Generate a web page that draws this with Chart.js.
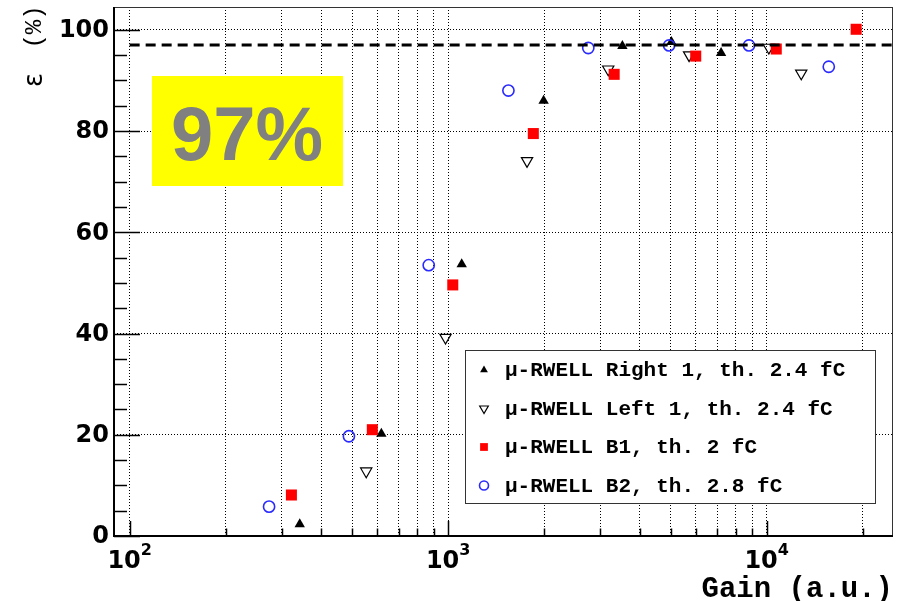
<!DOCTYPE html>
<html>
<head>
<meta charset="utf-8">
<script src="https://cdn.jsdelivr.net/npm/chart.js@4.4.1/dist/chart.umd.min.js"></script>
<style>
  html, body { margin: 0; padding: 0; background: #fff; }
  canvas { display: block; }
</style>
</head>
<body>
<canvas id="c" width="897" height="601"></canvas>
<script>
// Detection efficiency of the μ-RWELL prototypes as a function of gas gain

const right1Gain = [342, 617, 1103, 1994, 3524, 5024, 7194];
const right1Eff  = [2.3, 20.2, 53.7, 86.0, 96.8, 97.6, 95.4];

const left1Gain  = [553, 981, 1769, 3181, 5709, 10160, 12840];
const left1Eff   = [12.8, 39.2, 74.1, 92.2, 95.0, 96.5, 91.4];

const b1Gain     = [322, 578, 1034, 1851, 3321, 5989, 10720, 19100];
const b1Eff      = [8.1, 21.0, 49.6, 79.5, 91.2, 94.8, 96.2, 100.1];

const b2Gain     = [274, 488, 869, 1546, 2754, 4940, 8802, 15670];
const b2Eff      = [5.8, 19.7, 53.5, 88.0, 96.4, 96.9, 96.9, 92.7];

const seriesLabels = [
  'μ-RWELL Right 1, th. 2.4 fC',
  'μ-RWELL Left 1, th. 2.4 fC',
  'μ-RWELL B1, th. 2 fC',
  'μ-RWELL B2, th. 2.8 fC'
];

const plateauEff  = 97;
const plateauText = '97%';

const gainRange   = [89.3, 24930];
const effRange    = [0, 104.5];
const effTicks    = [0, 20, 40, 60, 80, 100];
const effMinorStep = 5;
const gainDecades = [2, 3, 4];
const gainSteps   = [1, 2, 3, 4, 5, 6, 7, 8, 9];

const xTitle = 'Gain (a.u.)';
const yTitleSymbol = 'ε';
const yTitleUnit = '(%)';

const toPoints = (xs, ys) => xs.map((v, i) => ({ x: v, y: ys[i] }));

// every 1..9 × 10^n inside the axis range: grid lines and ticks
const gainGrid = [];
const gainMajor = [];
gainDecades.forEach(d => gainSteps.forEach(m => {
  const v = m * Math.pow(10, d);
  if (v >= gainRange[0] && v <= gainRange[1]) {
    gainGrid.push(v);
    gainMajor.push(m === 1);
  }
}));

const datasets = [
  {
    label: seriesLabels[0], data: toPoints(right1Gain, right1Eff), order: 4,
    pointStyle: 'triangle', pointRadius: 6, pointRotation: 0,
    backgroundColor: '#000', borderColor: '#000', borderWidth: 0
  },
  {
    label: seriesLabels[1], data: toPoints(left1Gain, left1Eff), order: 3,
    pointStyle: 'triangle', pointRadius: 6.5, pointRotation: 180,
    backgroundColor: 'rgba(0,0,0,0)', borderColor: '#000', borderWidth: 1.2
  },
  {
    label: seriesLabels[2], data: toPoints(b1Gain, b1Eff), order: 2,
    pointStyle: 'rect', pointRadius: 7.8, pointRotation: 0,
    backgroundColor: '#ff0000', borderColor: '#ff0000', borderWidth: 0
  },
  {
    label: seriesLabels[3], data: toPoints(b2Gain, b2Eff), order: 1,
    pointStyle: 'circle', pointRadius: 5.6, pointRotation: 0,
    backgroundColor: 'rgba(0,0,0,0)', borderColor: '#2a2aff', borderWidth: 1.6
  },
  {
    type: 'line', label: 'plateau', order: 0,
    data: [{ x: 100, y: plateauEff }, { x: gainRange[1], y: plateauEff }],
    showLine: true, borderColor: '#000', borderWidth: 3, borderDash: [10, 6],
    pointRadius: 0, fill: false
  }
];

const decorations = {
  id: 'decorations',
  afterDraw(chart) {
    const { ctx, chartArea: a, scales: { x, y } } = chart;
    ctx.save();

    // plateau label
    ctx.fillStyle = '#ffff00';
    ctx.fillRect(152, 76, 191, 110);
    ctx.fillStyle = '#808080';
    ctx.font = 'bold 76px "Liberation Sans", Arial, sans-serif';
    ctx.textAlign = 'center';
    ctx.textBaseline = 'alphabetic';
    ctx.fillText(plateauText, 247, 160);

    // frame
    ctx.strokeStyle = '#333';
    ctx.lineWidth = 1;
    ctx.strokeRect(a.left + 0.5, a.top + 0.5, a.right - a.left - 1, a.bottom - a.top - 1);
    ctx.strokeStyle = '#000';
    ctx.lineWidth = 2;
    ctx.beginPath();
    ctx.moveTo(a.left, a.top);
    ctx.lineTo(a.left, a.bottom);
    ctx.lineTo(a.right, a.bottom);
    ctx.stroke();

    // y ticks (inside)
    ctx.lineWidth = 1.5;
    for (let v = effRange[0]; v <= effRange[1]; v += effMinorStep) {
      const py = Math.round(y.getPixelForValue(v)) + 0.5;
      const len = effTicks.includes(v) ? 26 : 13;
      ctx.beginPath();
      ctx.moveTo(a.left, py);
      ctx.lineTo(a.left + len, py);
      ctx.stroke();
    }
    // x ticks (inside)
    gainGrid.forEach((v, i) => {
      const px = Math.round(x.getPixelForValue(v)) + 0.5;
      const len = gainMajor[i] ? 15 : 7.5;
      ctx.beginPath();
      ctx.moveTo(px, a.bottom);
      ctx.lineTo(px, a.bottom - len);
      ctx.stroke();
    });

    // y tick labels
    ctx.fillStyle = '#000';
    ctx.font = 'bold 24px "DejaVu Sans", sans-serif';
    ctx.textAlign = 'right';
    ctx.textBaseline = 'middle';
    effTicks.forEach(v => ctx.fillText(String(v), a.left - 5, y.getPixelForValue(v) + 1));

    // x tick labels: 10^n
    ctx.textAlign = 'left';
    ctx.textBaseline = 'alphabetic';
    gainDecades.forEach(d => {
      const px = x.getPixelForValue(Math.pow(10, d));
      ctx.font = 'bold 24px "DejaVu Sans", sans-serif';
      const wb = ctx.measureText('10').width;
      ctx.font = 'bold 16px "DejaVu Sans", sans-serif';
      const we = ctx.measureText(String(d)).width;
      const x0 = px - (wb + we) / 2;
      ctx.font = 'bold 24px "DejaVu Sans", sans-serif';
      ctx.fillText('10', x0, a.bottom + 32);
      ctx.font = 'bold 16px "DejaVu Sans", sans-serif';
      ctx.fillText(String(d), x0 + wb, a.bottom + 19);
    });

    // axis titles
    ctx.font = 'bold 29px "Liberation Mono", monospace';
    ctx.textAlign = 'right';
    ctx.fillText(xTitle, a.right, 597);

    ctx.save();
    ctx.translate(35, 0);
    ctx.rotate(-Math.PI / 2);
    ctx.textAlign = 'center';
    ctx.textBaseline = 'middle';
    ctx.font = '24px "Liberation Mono", monospace';
    ctx.fillText(yTitleUnit, -27, 0);
    ctx.font = '26px "DejaVu Sans", sans-serif';
    ctx.fillText(yTitleSymbol, -80, 0);
    ctx.restore();

    // legend
    const lx = 465, ly = 350, lw = 410, lh = 153;
    ctx.fillStyle = '#fff';
    ctx.fillRect(lx, ly, lw, lh);
    ctx.strokeStyle = '#333';
    ctx.lineWidth = 1;
    ctx.strokeRect(lx + 0.5, ly + 0.5, lw, lh);
    const legendRadius = [4.5, 5, 5.5, 4.5];
    for (let i = 0; i < 4; i++) {
      const ds = chart.data.datasets[i];
      const ry = ly + 20 + i * 38.5;
      ctx.fillStyle = ds.backgroundColor;
      ctx.strokeStyle = ds.borderColor;
      ctx.lineWidth = ds.borderWidth;
      Chart.helpers.drawPoint(ctx, {
        pointStyle: ds.pointStyle, rotation: ds.pointRotation,
        radius: legendRadius[i], borderWidth: ds.borderWidth
      }, 484, ry);
      ctx.fillStyle = '#000';
      ctx.font = 'bold 21px "Liberation Mono", monospace';
      ctx.textAlign = 'left';
      ctx.textBaseline = 'middle';
      ctx.fillText(ds.label, 505, ry + 1);
    }

    ctx.restore();
  }
};

new Chart(document.getElementById('c'), {
  type: 'scatter',
  data: { datasets },
  options: {
    responsive: false,
    animation: false,
    events: [],
    layout: { autoPadding: false, padding: { left: 114, right: 4, top: 7, bottom: 65 } },
    plugins: { legend: { display: false }, tooltip: { enabled: false } },
    scales: {
      x: {
        type: 'logarithmic',
        min: gainRange[0], max: gainRange[1],
        afterBuildTicks: s => { s.ticks = gainGrid.map(v => ({ value: v })); },
        ticks: { display: false },
        grid: { color: '#000', lineWidth: 1, drawTicks: false },
        border: { display: false, dash: [1, 2] }
      },
      y: {
        type: 'linear',
        min: effRange[0], max: effRange[1],
        afterBuildTicks: s => { s.ticks = effTicks.map(v => ({ value: v })); },
        ticks: { display: false },
        grid: { color: '#000', lineWidth: 1, drawTicks: false },
        border: { display: false, dash: [1, 2] }
      }
    }
  },
  plugins: [decorations]
});
</script>
</body>
</html>
